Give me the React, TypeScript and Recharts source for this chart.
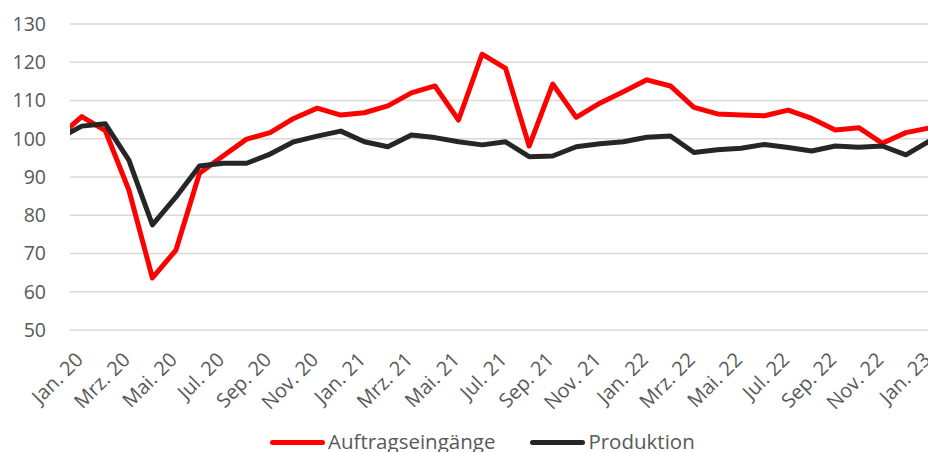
import React from "react";
import { LineChart, Line, XAxis, YAxis, CartesianGrid, Legend } from "recharts";

// Monatswerte Jan. 20 – Feb. 23 (Index)
const months = [
  "Jan. 20", "Feb. 20", "Mrz. 20", "Apr. 20", "Mai. 20", "Jun. 20",
  "Jul. 20", "Aug. 20", "Sep. 20", "Okt. 20", "Nov. 20", "Dez. 20",
  "Jan. 21", "Feb. 21", "Mrz. 21", "Apr. 21", "Mai. 21", "Jun. 21",
  "Jul. 21", "Aug. 21", "Sep. 21", "Okt. 21", "Nov. 21", "Dez. 21",
  "Jan. 22", "Feb. 22", "Mrz. 22", "Apr. 22", "Mai. 22", "Jun. 22",
  "Jul. 22", "Aug. 22", "Sep. 22", "Okt. 22", "Nov. 22", "Dez. 22",
  "Jan. 23", "Feb. 23",
];

const auftragseingaenge = [
  100.4, 105.8, 102.1, 86.6, 63.6, 70.9, 91.0, 95.5, 99.9, 101.6, 105.3, 108.0,
  106.2, 106.8, 108.6, 112.0, 113.8, 104.9, 122.1, 118.4, 98.1, 114.3, 105.6, 109.3,
  112.3, 115.4, 113.8, 108.2, 106.5, 106.2, 106.0, 107.5, 105.3, 102.3, 102.9, 98.8,
  101.6, 102.8,
];

const produktion = [
  100.0, 103.3, 103.9, 94.4, 77.5, 84.8, 92.9, 93.6, 93.6, 96.0, 99.2, 100.7,
  102.0, 99.2, 97.9, 101.0, 100.3, 99.2, 98.4, 99.2, 95.3, 95.5, 97.9, 98.7,
  99.2, 100.4, 100.7, 96.4, 97.1, 97.5, 98.5, 97.7, 96.8, 98.1, 97.8, 98.1,
  95.8, 99.4,
];

const xTicks = [0, 2, 4, 6, 8, 10, 12, 14, 16, 18, 20, 22, 24, 26, 28, 30, 32, 34, 36];
const yTicks = [50, 60, 70, 80, 90, 100, 110, 120, 130];

const FONT = "'Open Sans', sans-serif";
const TEXT = "#595959";
const RED = "#ff0000";
const DARK = "#262626";

const data = months.map((m, i) => ({
  i,
  month: m,
  auftrag: auftragseingaenge[i],
  produktion: produktion[i],
}));

const XTick = (props: any) => {
  const { x, y, payload } = props;
  const lx = x + 26;
  return (
    <text
      x={lx}
      y={y}
      textAnchor="end"
      fill={TEXT}
      fontFamily={FONT}
      fontSize={20}
      transform={`rotate(-45, ${lx}, ${y})`}
    >
      {months[payload.value]}
    </text>
  );
};

const legendItems = [
  { name: "Auftragseingänge", color: RED },
  { name: "Produktion", color: DARK },
];

const renderLegend = () => (
  <div
    style={{
      display: "flex",
      alignItems: "center",
      gap: 35,
      fontFamily: FONT,
      fontSize: 20.5,
      lineHeight: "20px",
      color: TEXT,
    }}
  >
    {legendItems.map((it) => (
      <div key={it.name} style={{ display: "flex", alignItems: "center" }}>
        <div
          style={{
            width: 55,
            height: 5,
            borderRadius: 3,
            background: it.color,
            marginRight: 3,
            marginTop: 3,
          }}
        />
        <span>{it.name}</span>
      </div>
    ))}
  </div>
);

export default function App() {
  return (
    <div
      style={{
        position: "absolute",
        left: 0,
        top: 0,
        width: 928,
        height: 452,
        overflow: "hidden",
        background: "#fff",
      }}
    >
      <LineChart
        width={928}
        height={452}
        data={data}
        margin={{ top: 24, right: 0, bottom: 0, left: 0 }}
      >
        <CartesianGrid vertical={false} stroke="#d9d9d9" strokeWidth={1.5} />
        <XAxis
          type="number"
          dataKey="i"
          domain={[0.5, 36.94]}
          allowDataOverflow
          ticks={xTicks}
          interval={0}
          axisLine={false}
          tickLine={false}
          tickSize={0}
          tickMargin={31}
          height={122}
          tick={<XTick />}
        />
        <YAxis
          domain={[50, 130]}
          ticks={yTicks}
          axisLine={false}
          tickLine={false}
          tickSize={0}
          tickMargin={24}
          width={70}
          tick={{ fill: TEXT, fontFamily: FONT, fontSize: 19.5 }}
        />
        <Legend
          layout="horizontal"
          verticalAlign="middle"
          align="center"
          content={renderLegend}
          wrapperStyle={{ left: 270, top: 431, width: "auto" }}
        />
        <Line
          type="linear"
          dataKey="auftrag"
          name="Auftragseingänge"
          stroke={RED}
          strokeWidth={5}
          strokeLinejoin="round"
          dot={false}
          isAnimationActive={false}
        />
        <Line
          type="linear"
          dataKey="produktion"
          name="Produktion"
          stroke={DARK}
          strokeWidth={5}
          strokeLinejoin="round"
          dot={false}
          isAnimationActive={false}
        />
      </LineChart>
    </div>
  );
}
